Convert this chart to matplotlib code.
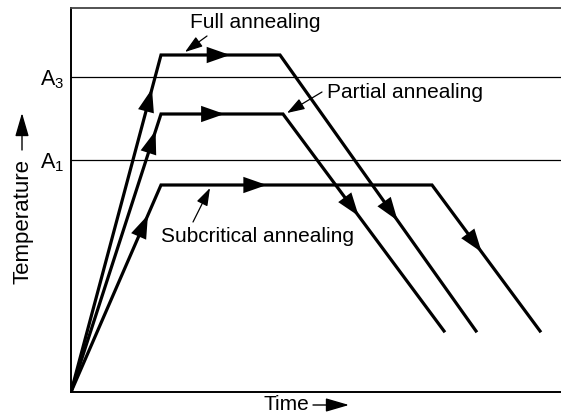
import matplotlib
matplotlib.use("Agg")
import matplotlib.pyplot as plt
import numpy as np

plt.rcParams['font.family'] = ['Liberation Sans', 'DejaVu Sans']
plt.rcParams['mathtext.fontset'] = 'custom'
plt.rcParams['mathtext.rm'] = 'Liberation Sans'
plt.rcParams['mathtext.it'] = 'Liberation Sans:italic'

# Data (arbitrary units: time, temperature)
full_t = [0, 90, 209, 405]
full_T = [0, 337, 337, 61]
partial_t = [0, 90, 212, 373]
partial_T = [0, 278, 278, 61]
sub_t = [0, 90, 361, 469]
sub_T = [0, 207, 207, 61]
critical_names = ['A$_\\mathrm{1}$', 'A$_\\mathrm{3}$']
critical_T = [232, 315]
# arrow positions: fraction along each segment
full_arrows = [0.9, 0.58, 0.6]
partial_arrows = [0.94, 0.52, 0.47]
sub_arrows = [0.855, 0.39, 0.46]
labels = ['Full annealing', 'Partial annealing', 'Subcritical annealing']

fig = plt.figure(figsize=(5.61, 4.18), dpi=100)
ax = fig.add_axes([71/561, 26/418, 490/561, 384/418])
ax.set_xlim(0, 490)
ax.set_ylim(0, 384)

for y in critical_T:
    ax.axhline(y, color='black', lw=0.9, zorder=1)

def draw_path(t, T, fracs):
    ax.plot(t, T, color='black', lw=2.3, solid_joinstyle='miter', zorder=3)
    for i, f in enumerate(fracs):
        x0, y0 = t[i], T[i]
        x1, y1 = t[i+1], T[i+1]
        tx, ty = x0 + f*(x1-x0), y0 + f*(y1-y0)
        bx, by = x0 + (f-0.03)*(x1-x0), y0 + (f-0.03)*(y1-y0)
        ax.annotate('', xy=(tx, ty), xytext=(bx, by),
                    arrowprops=dict(arrowstyle='-|>,head_length=1.2,head_width=0.42',
                                    color='black', lw=0, mutation_scale=14,
                                    shrinkA=0, shrinkB=0), zorder=4)

draw_path(full_t, full_T, full_arrows)
draw_path(partial_t, partial_T, partial_arrows)
draw_path(sub_t, sub_T, sub_arrows)

ap = dict(arrowstyle='-|>,head_length=0.9,head_width=0.3', color='black', lw=0.9,
          mutation_scale=12, shrinkA=0, shrinkB=0)
ax.annotate('', xy=(114, 340), xytext=(136, 356), arrowprops=ap)
ax.text(119, 369, labels[0], fontsize=15, va='center', ha='left')
ax.annotate('', xy=(216, 279), xytext=(251, 300), arrowprops=ap)
ax.text(256, 299, labels[1], fontsize=15, va='center', ha='left')
ax.annotate('', xy=(139, 204), xytext=(122, 170), arrowprops=ap)
ax.text(90, 155, labels[2], fontsize=15, va='center', ha='left')

ax.set_yticks(critical_T)
ax.set_yticklabels(critical_names, fontsize=15.5)
ax.set_xticks([])
ax.tick_params(axis='y', length=0, pad=5)

ax.spines['right'].set_visible(False)
ax.spines['top'].set_color('#444444')
ax.spines['top'].set_linewidth(1.3)
ax.spines['left'].set_linewidth(1.4)
ax.spines['bottom'].set_linewidth(1.4)

# axis labels with arrows
fig.text(263/561, 1-405/418, 'Time', fontsize=15, ha='left', va='center')
fig.patches.append(matplotlib.patches.FancyArrowPatch(
    (313/561, 1-405/418), (349/561, 1-405/418), transform=fig.transFigure,
    arrowstyle='-|>,head_length=1.2,head_width=0.35', mutation_scale=12,
    color='black', lw=1.0, shrinkA=0, shrinkB=0))
fig.text(23/561, 1-221/418, 'Temperature', fontsize=16, ha='center', va='center',
         rotation=90)
fig.patches.append(matplotlib.patches.FancyArrowPatch(
    (22/561, 1-150/418), (22/561, 1-113/418), transform=fig.transFigure,
    arrowstyle='-|>,head_length=1.2,head_width=0.35', mutation_scale=12,
    color='black', lw=1.0, shrinkA=0, shrinkB=0))

fig.savefig('out.png', dpi=100)
